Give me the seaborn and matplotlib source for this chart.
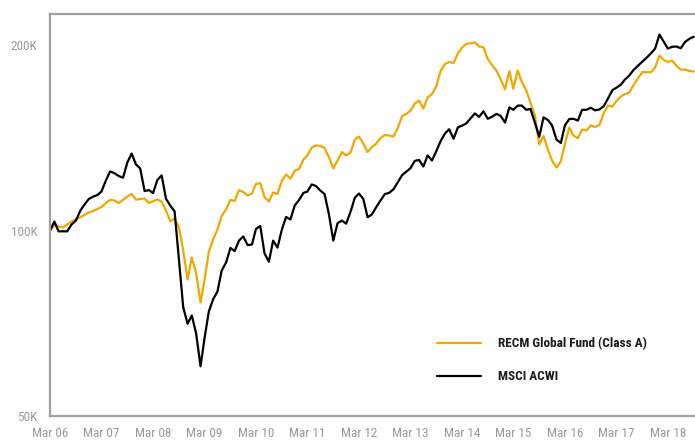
import matplotlib
matplotlib.use("Agg")
import matplotlib.pyplot as plt
import matplotlib.ticker as mticker
from matplotlib import font_manager
import seaborn as sns
import pandas as pd
import numpy as np

# ---- data (values in thousands, monthly from Mar 2006) ----
start_month = "2006-03-01"
fund_name = "RECM Global Fund (Class A)"
index_name = "MSCI ACWI"

fund = [100.0, 101.9, 101.5, 101.2, 102.3, 103.4, 104.4, 105.0, 106.0, 107.0,
        107.6, 108.4, 109.2, 110.8, 112.1, 111.9, 110.8, 112.1, 113.5, 114.7,
        112.2, 112.5, 112.7, 110.8, 111.6, 112.3, 111.4, 107.8, 103.5, 104.5,
        101.1, 92.8, 83.3, 90.4, 85.2, 76.4, 83.0, 92.4, 96.7, 100.4,
        105.6, 108.2, 112.1, 111.7, 116.3, 115.5, 114.0, 114.8, 119.0, 119.4,
        113.3, 111.4, 115.3, 114.6, 120.5, 123.3, 121.4, 125.1, 125.8, 130.4,
        132.4, 136.4, 137.4, 137.2, 136.1, 131.5, 126.1, 129.9, 134.1, 132.4,
        133.8, 140.5, 142.1, 138.4, 134.1, 136.6, 138.3, 141.3, 142.9, 142.6,
        142.1, 146.7, 153.3, 154.7, 156.4, 160.7, 162.5, 157.7, 164.4, 166.5,
        171.6, 181.5, 186.3, 187.8, 186.9, 194.0, 197.8, 200.9, 201.3, 202.0,
        198.9, 198.4, 189.9, 185.6, 181.8, 176.1, 169.4, 181.5, 169.8, 181.8,
        174.1, 168.7, 161.1, 153.7, 137.9, 142.4, 135.4, 129.9, 126.5, 129.4,
        138.2, 147.0, 142.6, 141.2, 145.8, 145.4, 148.1, 147.2, 148.3, 154.9,
        159.5, 158.9, 162.2, 165.0, 166.5, 167.5, 172.2, 176.5, 180.7, 180.7,
        180.7, 183.9, 192.3, 189.1, 187.8, 188.7, 185.0, 182.5, 182.5, 181.5,
        181.2]

index = [100.0, 103.4, 99.7, 99.7, 99.7, 102.3, 103.8, 107.6, 110.2, 112.5,
         113.5, 114.2, 115.7, 120.5, 124.7, 123.9, 122.6, 121.8, 129.0, 133.3,
         128.0, 126.1, 115.9, 116.3, 115.0, 120.8, 122.9, 112.6, 109.8, 107.4,
         89.4, 75.1, 70.6, 72.8, 68.0, 60.2, 66.8, 73.9, 77.3, 79.6,
         86.1, 88.7, 93.7, 92.6, 96.3, 97.8, 94.7, 94.9, 100.6, 101.7,
         91.8, 89.0, 96.3, 93.8, 100.4, 105.2, 104.2, 109.8, 112.1, 115.1,
         115.7, 118.8, 118.1, 116.1, 114.6, 106.2, 96.3, 102.8, 103.8, 102.6,
         107.2, 113.1, 114.8, 112.5, 105.1, 106.2, 109.1, 111.9, 114.6, 115.1,
         116.7, 119.7, 123.0, 124.7, 126.2, 129.7, 130.2, 127.0, 132.4, 129.9,
         134.6, 139.6, 143.7, 146.0, 140.9, 147.1, 147.9, 149.2, 152.0, 154.9,
         152.9, 156.1, 151.8, 153.0, 154.6, 153.5, 149.7, 158.4, 157.0, 159.5,
         159.5, 157.0, 157.5, 149.7, 141.9, 152.6, 151.2, 148.1, 140.5, 138.7,
         148.1, 151.7, 151.8, 150.8, 157.0, 157.0, 158.2, 156.7, 157.2, 159.1,
         163.8, 169.0, 170.5, 172.4, 175.8, 178.5, 182.2, 185.1, 187.9, 190.7,
         193.8, 197.4, 208.0, 202.3, 197.4, 198.7, 198.9, 197.6, 202.3, 204.7,
         206.3]

y_ticks = [50, 100, 200]
y_tick_labels = ["50K", "100K", "200K"]
x_tick_years = list(range(2006, 2019))
x_tick_labels = ["Mar %02d" % (y % 100) for y in x_tick_years]

# ---- build frame ----
dates = pd.date_range(start_month, periods=len(fund), freq="MS")
df = pd.concat([
    pd.DataFrame({"date": dates, "value": fund, "series": fund_name}),
    pd.DataFrame({"date": dates, "value": index, "series": index_name}),
])

sns.set_style("white")

# pick a narrow font if one is installed
available = {f.name for f in font_manager.fontManager.ttflist}
narrow_choices = ["Liberation Sans Narrow", "DejaVu Sans Condensed",
                  "Roboto Condensed", "Open Sans Condensed", "Noto Sans Condensed"]
narrow = [f for f in narrow_choices if f in available]
if narrow:
    family = narrow[0]
    tick_fs, leg_fs = 9.5, 9.5
else:
    family = "Roboto" if "Roboto" in available else "DejaVu Sans"
    tick_fs, leg_fs = 8.5, 8.5
plt.rcParams["font.family"] = [family, "DejaVu Sans"]

gold = "#F0A800"
grey = "#9a9a9a"

fig = plt.figure(figsize=(6.95, 4.40), dpi=100)
ax = fig.add_axes([50 / 695, 24 / 440, 645 / 695, 402 / 440])

sns.lineplot(data=df, x="date", y="value", hue="series",
             palette={fund_name: gold, index_name: "#000000"},
             linewidth=1.6, ax=ax, legend=True)

ax.set_yscale("log")
ax.set_ylim(50, 224.6)
ax.set_xlim(pd.Timestamp("2006-03-01"), pd.Timestamp("2018-09-10"))

ax.yaxis.set_major_locator(mticker.FixedLocator(y_ticks))
ax.yaxis.set_major_formatter(mticker.FixedFormatter(y_tick_labels))
ax.yaxis.set_minor_locator(mticker.NullLocator())
ax.set_xticks([pd.Timestamp("%d-03-01" % y) for y in x_tick_years])
ax.set_xticklabels(x_tick_labels)

ax.tick_params(axis="both", length=0, colors=grey, labelsize=tick_fs)
ax.tick_params(axis="y", pad=9)
ax.tick_params(axis="x", pad=8)
ax.set_xlabel("")
ax.set_ylabel("")

for side in ["left", "top", "bottom"]:
    ax.spines[side].set_color("#a0a0a0")
    ax.spines[side].set_linewidth(1.6)
ax.spines["right"].set_visible(False)

handles, labels = ax.get_legend_handles_labels()
leg = ax.legend(handles, labels, loc="upper left",
                bbox_to_anchor=((437 - 50) / 645, (416 - 337) / 402),
                frameon=False, fontsize=leg_fs, handlelength=3.3,
                handletextpad=1.3, labelspacing=1.52, borderpad=0,
                borderaxespad=0)
for t in leg.get_texts():
    t.set_color("#1a1a1a")
    t.set_fontweight("bold")
for h in leg.get_lines():
    h.set_linewidth(1.6)

fig.savefig("out.png", dpi=100)
